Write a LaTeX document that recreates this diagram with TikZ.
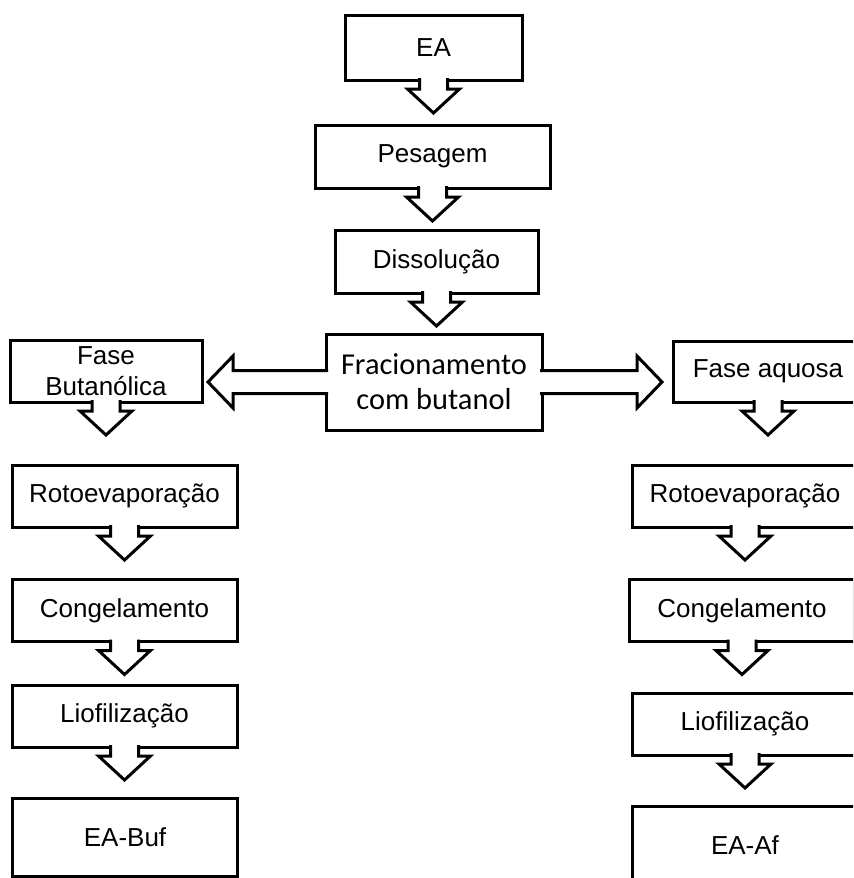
\documentclass[tikz,border=0pt]{standalone}
\usepackage{fontspec}
\setmainfont{Liberation Sans}
\newfontfamily\calibrifont{Carlito}
\usetikzlibrary{calc}
\tikzset{
    box/.style={draw, line width=1.5pt, fill=white, inner sep=2pt, outer sep=0pt, align=center,
        font=\fontsize{13}{15.5}\selectfont},
    wide/.style={minimum width=112.5pt, minimum height=31pt},
    blockarrow/.style={draw, fill=white, line width=1.5pt},
}
\begin{document}
\begin{tikzpicture}[x=0.5pt, y=-0.5pt]
        \useasboundingbox (0,0) rectangle (853,878);
        \clip (0,0) rectangle (853,878);
        % main column
            \node[box, minimum width=88.5pt, minimum height=32.5pt] (ea) at (433.5,47.5) {EA};
            \node[box, minimum width=117.5pt, minimum height=31.5pt] (pes) at (432.5,156.5) {Pesagem};
            \node[box, minimum width=101.5pt, minimum height=31.5pt] (dis) at (436.5,261.5) {Dissolução};
            \node[box, minimum width=108pt, minimum height=48pt,
                font=\calibrifont\fontsize{15.2}{17.5}\selectfont] (fr) at (434,382) {Fracionamento\\com butanol};
        % butanol phase
            \node[box, minimum width=96pt, minimum height=31pt] (fb) at (106,371) {Fase\\Butanólica};
            \node[box, wide] (rl) at (124.5,496) {Rotoevaporação};
            \node[box, wide] (cl) at (124.5,610.5) {Congelamento};
            \node[box, wide] (ll) at (124.5,716) {Liofilização};
            \node[box, wide, minimum height=39pt] (bl) at (125,837) {EA-Buf};
        % aqueous phase
            \node[box, minimum width=95pt, minimum height=30.5pt] (fa) at (768,371.5) {Fase aquosa};
            \node[box, wide] (rr) at (745,496) {Rotoevaporação};
            \node[box, wide] (cr) at (742,610.5) {Congelamento};
            \node[box, wide] (lr) at (745,724) {Liofilização};
            \node[box, wide, minimum height=39pt] (br) at (745,845) {EA-Af};
        % arrows down
            \foreach \a/\b in {ea/pes,pes/dis,dis/fr,fb/rl,rl/cl,cl/ll,ll/bl,fa/rr,rr/cr,cr/lr,lr/br}{
                \path[blockarrow] ($(\a.south)+(-14,-2)$) -- ++(0,11) -- ++(-12,0)
                    -- ($(\a.south)!16.5pt!(\a.south |- \b.north)$) -- ++(26,-24) -- ++(-12,0) -- ++(0,-11);
            }
        % arrows sideways
            \coordinate (tl) at ($(fr.west)!59pt!(fr.west -| fb.east)$);
            \coordinate (tr) at ($(fr.east)!60pt!(fr.east -| fa.west)$);
            \path[blockarrow] ($(fr.west)+(2,-11.5)$) -- ($(tl)+(25,-11.5)$) -- ($(tl)+(25,-26)$)
                -- (tl) -- ($(tl)+(25,26)$) -- ($(tl)+(25,11.5)$) -- ($(fr.west)+(2,11.5)$);
            \path[blockarrow] ($(fr.east)+(-2,-11.5)$) -- ($(tr)+(-25,-11.5)$) -- ($(tr)+(-25,-26)$)
                -- (tr) -- ($(tr)+(-25,26)$) -- ($(tr)+(-25,11.5)$) -- ($(fr.east)+(-2,11.5)$);
\end{tikzpicture}
\end{document}
